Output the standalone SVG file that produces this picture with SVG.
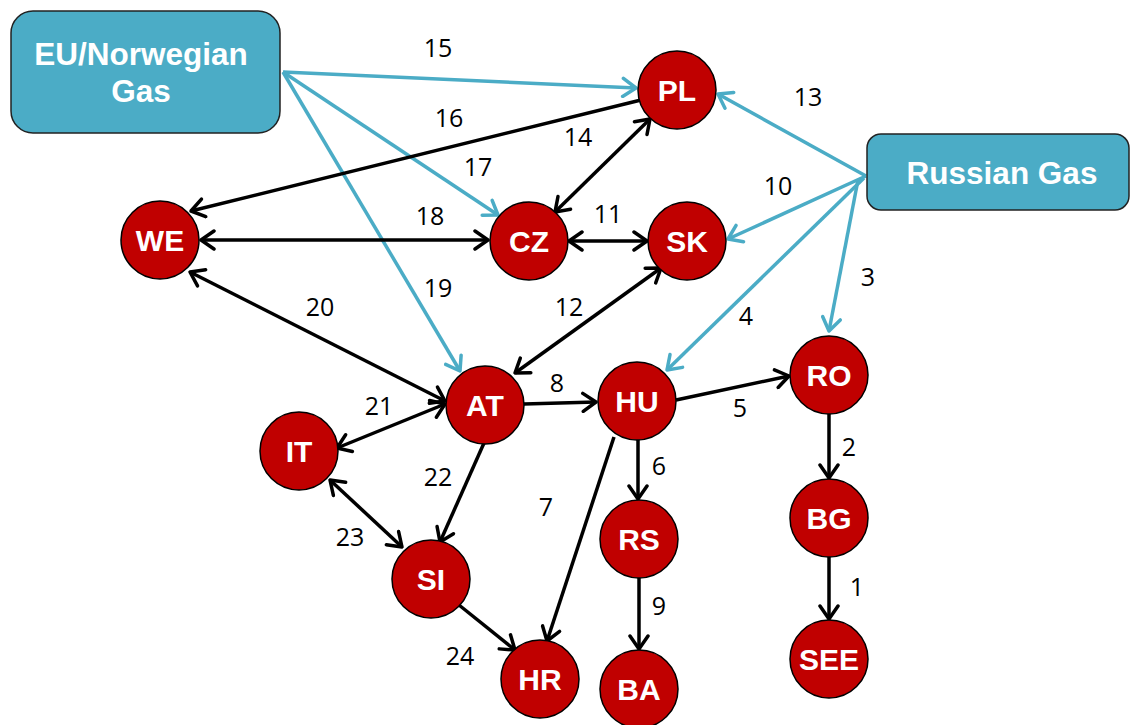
<svg xmlns="http://www.w3.org/2000/svg" width="1130" height="725" viewBox="0 0 1130 725">
  <style>
    .node circle { fill: #c00000; stroke: #000; stroke-width: 1.5; }
    .node text { fill: #fff; font-family: "Liberation Sans", Arial, sans-serif; font-weight: bold; font-size: 30px; text-anchor: middle; }
    .src rect { fill: #4bacc6; stroke: #222; stroke-width: 1.5; }
    .src text { fill: #fff; font-family: "Liberation Sans", Arial, sans-serif; font-weight: bold; font-size: 31.5px; text-anchor: middle; }
    .flow { fill: none; stroke: #000; stroke-width: 3.5; }
    .gas { fill: none; stroke: #4bacc6; stroke-width: 3.5; }
    .lbl { font-family: "Open Sans", "Liberation Sans", sans-serif; font-size: 25px; fill: #000; text-anchor: middle; }
  </style>
  <defs>
    <marker id="headK" viewBox="-17 -11 19 22" refX="0" refY="0" markerWidth="19" markerHeight="22" markerUnits="userSpaceOnUse" orient="auto-start-reverse">
      <path d="M-13,-9 L0,0 L-13,9" fill="none" stroke="#000" stroke-width="3.5" stroke-linecap="round" stroke-linejoin="round"/>
    </marker>
    <marker id="headB" viewBox="-17 -11 19 22" refX="0" refY="0" markerWidth="19" markerHeight="22" markerUnits="userSpaceOnUse" orient="auto-start-reverse">
      <path d="M-13,-9 L0,0 L-13,9" fill="none" stroke="#4bacc6" stroke-width="3.5" stroke-linecap="round" stroke-linejoin="round"/>
    </marker>
  </defs>

  <!-- connectors -->
  <g id="connectors">
    <!-- supply routes -->
    <line class="gas" x1="283" y1="72" x2="636" y2="88" marker-end="url(#headB)"/>
    <line class="gas" x1="283" y1="72" x2="498" y2="215" marker-end="url(#headB)"/>
    <line class="gas" x1="283" y1="72" x2="460" y2="371" marker-end="url(#headB)"/>
    <line class="gas" x1="866" y1="176" x2="718" y2="94" marker-end="url(#headB)"/>
    <line class="gas" x1="866" y1="176" x2="728" y2="239" marker-end="url(#headB)"/>
    <line class="gas" x1="858" y1="180" x2="829" y2="331" marker-end="url(#headB)"/>
    <line class="gas" x1="864" y1="178" x2="667" y2="370" marker-end="url(#headB)"/>

    <!-- interconnections -->
    <line class="flow" x1="641" y1="100" x2="191" y2="211" marker-end="url(#headK)"/>
    <line class="flow" x1="555" y1="212" x2="650" y2="119" marker-start="url(#headK)" marker-end="url(#headK)"/>
    <line class="flow" x1="201" y1="240" x2="488" y2="240" marker-start="url(#headK)" marker-end="url(#headK)"/>
    <line class="flow" x1="569" y1="241" x2="647" y2="241" marker-start="url(#headK)" marker-end="url(#headK)"/>
    <line class="flow" x1="661" y1="268" x2="515" y2="373" marker-start="url(#headK)" marker-end="url(#headK)"/>
    <line class="flow" x1="190" y1="272" x2="445" y2="401" marker-start="url(#headK)" marker-end="url(#headK)"/>
    <line class="flow" x1="445" y1="404" x2="337" y2="448" marker-start="url(#headK)" marker-end="url(#headK)"/>
    <line class="flow" x1="524" y1="404" x2="596" y2="402" marker-end="url(#headK)"/>
    <line class="flow" x1="676" y1="400" x2="789" y2="376" marker-end="url(#headK)"/>
    <line class="flow" x1="638" y1="440" x2="638" y2="499" marker-end="url(#headK)"/>
    <line class="flow" x1="614" y1="437" x2="547" y2="641" marker-end="url(#headK)"/>
    <line class="flow" x1="484" y1="443" x2="440" y2="542" marker-end="url(#headK)"/>
    <line class="flow" x1="330" y1="480" x2="402" y2="547" marker-start="url(#headK)" marker-end="url(#headK)"/>
    <line class="flow" x1="459" y1="605" x2="515" y2="650" marker-end="url(#headK)"/>
    <line class="flow" x1="639" y1="578" x2="639" y2="649" marker-end="url(#headK)"/>
    <line class="flow" x1="829" y1="414" x2="829" y2="478" marker-end="url(#headK)"/>
    <line class="flow" x1="829" y1="557" x2="829" y2="619" marker-end="url(#headK)"/>

    <!-- route numbers -->
    <text class="lbl" x="438" y="57">15</text>
    <text class="lbl" x="449" y="127">16</text>
    <text class="lbl" x="478" y="176">17</text>
    <text class="lbl" x="430" y="225">18</text>
    <text class="lbl" x="438" y="297">19</text>
    <text class="lbl" x="578" y="146">14</text>
    <text class="lbl" x="608" y="223">11</text>
    <text class="lbl" x="808" y="106">13</text>
    <text class="lbl" x="778" y="195">10</text>
    <text class="lbl" x="868" y="286">3</text>
    <text class="lbl" x="746" y="325">4</text>
    <text class="lbl" x="569" y="316">12</text>
    <text class="lbl" x="320" y="316">20</text>
    <text class="lbl" x="379" y="415">21</text>
    <text class="lbl" x="557" y="392">8</text>
    <text class="lbl" x="740" y="417">5</text>
    <text class="lbl" x="659" y="475">6</text>
    <text class="lbl" x="546" y="516">7</text>
    <text class="lbl" x="438" y="486">22</text>
    <text class="lbl" x="350" y="546">23</text>
    <text class="lbl" x="460" y="665">24</text>
    <text class="lbl" x="659" y="615">9</text>
    <text class="lbl" x="849" y="456">2</text>
    <text class="lbl" x="857" y="596">1</text>
  </g>

  <!-- supply sources -->
  <g id="eu-norwegian" class="src">
    <rect x="11" y="11" width="269" height="122" rx="22"/>
    <text x="141" y="65">EU/Norwegian</text>
    <text x="141" y="102">Gas</text>
  </g>
  <g id="russian" class="src">
    <rect x="867" y="134" width="262" height="76" rx="14"/>
    <text x="1002" y="184">Russian Gas</text>
  </g>

  <!-- country nodes -->
  <g id="PL" class="node"><circle cx="677" cy="90" r="39"/><text x="677" y="101">PL</text></g>
  <g id="WE" class="node"><circle cx="160" cy="240" r="39"/><text x="160" y="251">WE</text></g>
  <g id="CZ" class="node"><circle cx="529" cy="241" r="39"/><text x="529" y="252">CZ</text></g>
  <g id="SK" class="node"><circle cx="687" cy="241" r="39"/><text x="687" y="252">SK</text></g>
  <g id="AT" class="node"><circle cx="485" cy="405" r="39"/><text x="485" y="416">AT</text></g>
  <g id="HU" class="node"><circle cx="637" cy="401" r="39"/><text x="637" y="412">HU</text></g>
  <g id="RO" class="node"><circle cx="829" cy="375" r="39"/><text x="829" y="386">RO</text></g>
  <g id="IT" class="node"><circle cx="299" cy="451" r="39"/><text x="299" y="462">IT</text></g>
  <g id="RS" class="node"><circle cx="639" cy="539" r="39"/><text x="639" y="550">RS</text></g>
  <g id="BG" class="node"><circle cx="829" cy="518" r="39"/><text x="829" y="529">BG</text></g>
  <g id="SI" class="node"><circle cx="431" cy="579" r="39"/><text x="431" y="590">SI</text></g>
  <g id="HR" class="node"><circle cx="540" cy="679" r="39"/><text x="540" y="690">HR</text></g>
  <g id="BA" class="node"><circle cx="639" cy="689" r="39"/><text x="639" y="700">BA</text></g>
  <g id="SEE" class="node"><circle cx="829" cy="659" r="39"/><text x="829" y="670">SEE</text></g>
</svg>
